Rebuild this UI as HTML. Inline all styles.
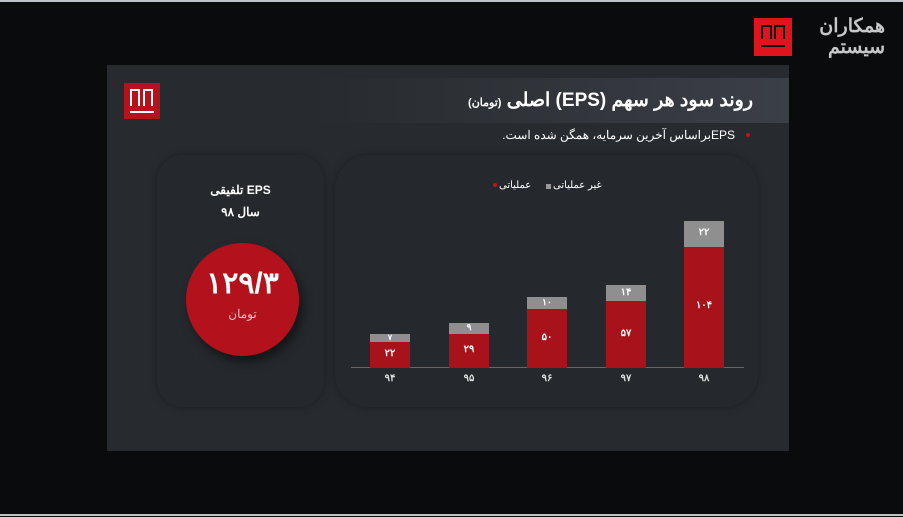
<!DOCTYPE html>
<html><head><meta charset="utf-8"><style>
*{margin:0;padding:0;box-sizing:border-box}
body{width:903px;height:517px;background:#0a0b0d;position:relative;overflow:hidden;font-family:"Liberation Sans","Noto Sans CJK SC",sans-serif;color:#fff}
.abs{position:absolute}
.t{position:absolute;white-space:nowrap;direction:rtl}
.bar{position:absolute;width:40px}
.r{background:#a8121a}.g{background:#8f8f8f}
.n{position:absolute;width:40px;text-align:center;font-size:10px;color:#fff;font-weight:bold}
.x{position:absolute;width:40px;text-align:center;font-size:10px;color:#ddd;font-weight:bold;top:373px}
.lg{position:absolute;border:2px solid #111;border-bottom:none}
</style></head><body>
<div class="abs" style="left:0;top:0;width:903px;height:2px;background:#bfc3c7"></div>
<div class="abs" style="left:0;top:514px;width:903px;height:2px;background:#bfc3c7"></div>
<div class="abs" style="left:754px;top:18px;width:38px;height:38px;background:#e0141c"></div>
<div class="lg" style="left:761px;top:25px;width:11px;height:14px"></div>
<div class="lg" style="left:774px;top:25px;width:11px;height:14px"></div>
<div class="abs" style="left:761px;top:45px;width:24px;height:2px;background:#111"></div>
<div class="t" style="right:18px;top:16px;font-size:19px;font-weight:bold;color:#c8c8c8;line-height:21px;text-align:right">همکاران<br>سیستم</div>
<div class="abs" style="left:107px;top:65px;width:682px;height:386px;background:#272b2f"></div>
<div class="abs" style="left:107px;top:78px;width:682px;height:45px;background:linear-gradient(90deg,#272b2f 30%,#3b3f46)"></div>
<div class="abs" style="left:124px;top:83px;width:36px;height:36px;background:#b5121b"></div>
<div class="abs" style="left:130px;top:89px;width:10px;height:17px;border-top:2px solid #fff;border-left:2px solid #fff;border-right:2px solid #fff"></div>
<div class="abs" style="left:143px;top:89px;width:10px;height:17px;border-top:2px solid #fff;border-left:2px solid #fff;border-right:2px solid #fff"></div>
<div class="abs" style="left:130px;top:111px;width:24px;height:2px;background:#fff"></div>
<div class="t" style="right:150px;top:89px;font-size:19px;font-weight:bold">روند سود هر سهم (EPS) اصلی <span style="font-size:11px">(تومان)</span></div>
<div class="abs" style="left:746px;top:133px;width:4px;height:4px;border-radius:50%;background:#c0141c"></div>
<div class="t" style="right:168px;top:128px;font-size:12px">EPSبراساس آخرین سرمایه، همگن شده است.</div>
<div class="abs" style="left:157px;top:155px;width:167px;height:252px;border-radius:26px;background:#25292d;box-shadow:0 0 8px rgba(0,0,0,.35)"></div>
<div class="t" style="left:157px;width:167px;top:179px;text-align:center;font-size:12px;font-weight:bold;line-height:22px">EPS تلفیقی<br>سال ۹۸</div>
<div class="abs" style="left:186px;top:243px;width:113px;height:113px;border-radius:50%;background:#b3111b;box-shadow:4px 6px 10px rgba(0,0,0,.5)"></div>
<div class="abs" style="left:186px;top:266px;width:113px;text-align:center;font-size:30px;font-weight:bold">۱۲۹/۳</div>
<div class="abs" style="left:186px;top:307px;width:113px;text-align:center;font-size:12px;color:#e8c0c0">تومان</div>
<div class="abs" style="left:335px;top:155px;width:423px;height:252px;border-radius:34px;background:#25292d;box-shadow:0 0 8px rgba(0,0,0,.35)"></div>
<div class="abs" style="left:493px;top:183px;width:4px;height:4px;border-radius:50%;background:#c0141c"></div>
<div class="t" style="left:499px;top:180px;font-size:10px">عملیاتی</div>
<div class="abs" style="left:546px;top:184px;width:5px;height:5px;background:#999"></div>
<div class="t" style="left:553px;top:180px;font-size:10px">غیر عملیاتی</div>
<div class="abs" style="left:351px;top:367px;width:393px;height:1px;background:#666"></div>
<div class="bar r" style="left:370px;top:342px;height:26px"></div><div class="bar g" style="left:370px;top:334px;height:8px"></div>
<div class="n" style="left:370px;top:348px">۲۲</div><div class="n" style="left:370px;top:333px;font-size:8px">۷</div>
<div class="bar r" style="left:449px;top:334px;height:34px"></div><div class="bar g" style="left:449px;top:323px;height:11px"></div>
<div class="n" style="left:449px;top:344px">۲۹</div><div class="n" style="left:449px;top:322px;font-size:9px">۹</div>
<div class="bar r" style="left:527px;top:309px;height:59px"></div><div class="bar g" style="left:527px;top:297px;height:12px"></div>
<div class="n" style="left:527px;top:332px">۵۰</div><div class="n" style="left:527px;top:297px;font-size:9px">۱۰</div>
<div class="bar r" style="left:606px;top:301px;height:67px"></div><div class="bar g" style="left:606px;top:285px;height:16px"></div>
<div class="n" style="left:606px;top:328px">۵۷</div><div class="n" style="left:606px;top:287px">۱۴</div>
<div class="bar r" style="left:684px;top:247px;height:121px"></div><div class="bar g" style="left:684px;top:221px;height:26px"></div>
<div class="n" style="left:684px;top:300px">۱۰۴</div><div class="n" style="left:684px;top:227px">۲۲</div>
<div class="x" style="left:370px">۹۴</div><div class="x" style="left:449px">۹۵</div><div class="x" style="left:527px">۹۶</div><div class="x" style="left:606px">۹۷</div><div class="x" style="left:684px">۹۸</div>
</body></html>
